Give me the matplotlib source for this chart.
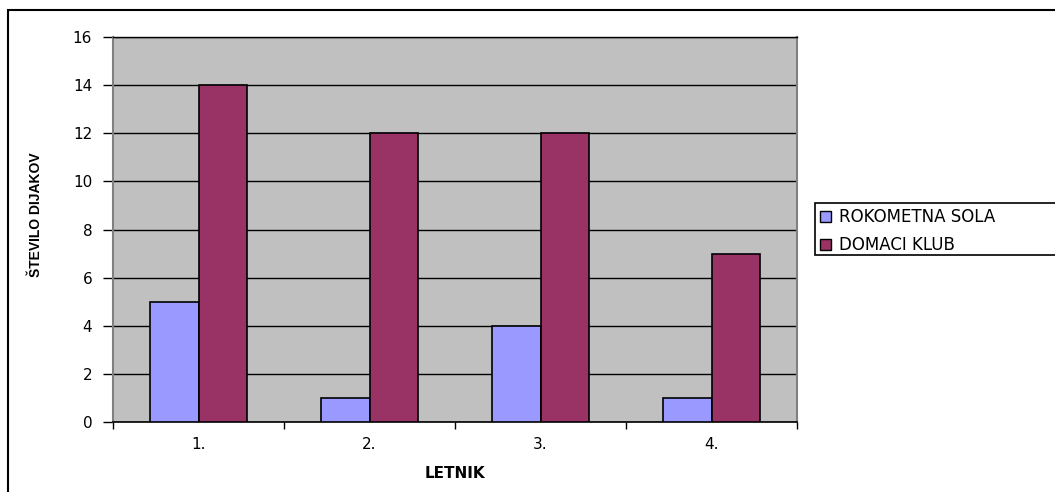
import matplotlib.pyplot as plt
from matplotlib.patches import Rectangle

# students per year group, by where they play
categories = ['1.', '2.', '3.', '4.']
rokometna_sola = [5, 1, 4, 1]
domaci_klub = [14, 12, 12, 7]
series_names = ['ROKOMETNA SOLA', 'DOMACI KLUB']
y_ticks = [0, 2, 4, 6, 8, 10, 12, 14, 16]

W, H = 1055, 492
fig = plt.figure(figsize=(W / 100, H / 100), dpi=100)
fig.patch.set_facecolor('white')

# outer chart border (runs off the right and bottom edges)
fig.patches.append(Rectangle((8 / W, -0.2), 1.2, 1.2 - 10 / H,
                             transform=fig.transFigure, fill=False,
                             edgecolor='black', linewidth=1.5, zorder=-2))

ax = fig.add_axes([113 / W, 1 - 422 / H, (797 - 113) / W, (422 - 37) / H])
ax.set_facecolor('#C0C0C0')

x = list(range(len(categories)))
w = 0.286
ax.bar([i - w / 2 for i in x], rokometna_sola, w, color='#9999FF',
       edgecolor='black', linewidth=1.2, label=series_names[0], zorder=3)
ax.bar([i + w / 2 for i in x], domaci_klub, w, color='#993366',
       edgecolor='black', linewidth=1.2, label=series_names[1], zorder=3)

ax.set_xlim(-0.5, len(categories) - 0.5)
ax.set_ylim(0, 16)
ax.set_yticks(y_ticks)
ax.yaxis.grid(True, color='black', linewidth=1.0, zorder=1)
ax.set_axisbelow(True)

# ticks between groups, labels centred under each group
ax.set_xticks([i - 0.5 for i in range(len(categories) + 1)])
ax.set_xticklabels([])
ax.set_xticks(x, minor=True)
ax.set_xticklabels(categories, minor=True)
ax.tick_params(axis='x', which='major', length=5, width=1, color='black')
ax.tick_params(axis='x', which='minor', length=0, pad=11, labelsize=11)
ax.tick_params(axis='y', length=7, width=1, color='black', pad=8, labelsize=11)
for lbl in ax.get_xticklabels(minor=True) + ax.get_yticklabels():
    lbl.set_family('DejaVu Sans')

for side in ('left', 'right'):
    ax.spines[side].set_color('#808080')
    ax.spines[side].set_linewidth(1.5)
ax.spines['top'].set_color('black')
ax.spines['top'].set_linewidth(1.0)
ax.spines['bottom'].set_color('black')
ax.spines['bottom'].set_linewidth(1.2)

ax.set_xlabel('LETNIK', fontsize=11, fontweight='bold', family='DejaVu Sans',
              labelpad=10)
fig.text(36 / W, 1 - 215 / H, 'ŠTEVILO DIJAKOV', rotation=90, ha='center',
         va='center', fontsize=10, fontweight='bold',
         family=['Liberation Sans Narrow', 'Liberation Sans', 'DejaVu Sans'])

# legend box extends past the right edge
fig.patches.append(Rectangle((815 / W, 1 - 255 / H), 0.3, (255 - 203) / H,
                             transform=fig.transFigure, facecolor='white',
                             edgecolor='black', linewidth=1.2, zorder=-1))
handles, labels = ax.get_legend_handles_labels()
leg = fig.legend(handles, labels, loc='upper left',
                 bbox_to_anchor=(820 / W, 1 - 208 / H),
                 frameon=False, prop={'family': 'DejaVu Sans', 'size': 12},
                 handlelength=0.65, handleheight=0.65, handletextpad=0.5,
                 labelspacing=0.6, borderaxespad=0, borderpad=0)
leg.set_zorder(5)
for h in leg.legend_handles:
    h.set_linewidth(1.0)

fig.savefig('out.png', dpi=100)
